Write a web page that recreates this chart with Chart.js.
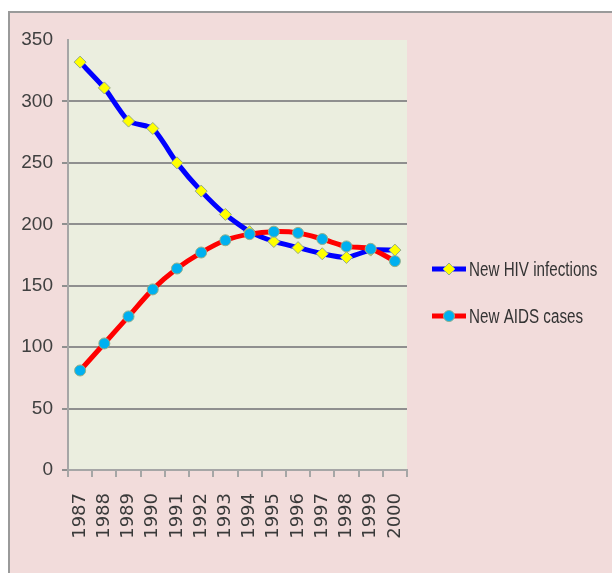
<!DOCTYPE html>
<html>
<head>
<meta charset="utf-8">
<script src="https://cdn.jsdelivr.net/npm/chart.js@4.4.1/dist/chart.umd.min.js"></script>
<style>
  body { margin: 0; background: #ffffff; overflow: hidden; }
  #frame { position: absolute; left: 8px; top: 11px; width: 700px; height: 700px;
           border: 2px solid #9a9a9a; background: #f2dcdb; }
  #chart { position: absolute; left: 0; top: 0; }
</style>
</head>
<body>
<div id="frame"></div>
<canvas id="chart" width="612" height="573"></canvas>
<script>
var years = ['1987', '1988', '1989', '1990', '1991', '1992', '1993', '1994', '1995', '1996', '1997', '1998', '1999', '2000'];
var hivInfections = [332, 311, 284, 278, 250, 227, 208, 194, 186, 181, 176, 173, 179, 179];
var aidsCases = [81, 103, 125, 147, 164, 177, 187, 192, 194, 193, 188, 182, 180, 170];
var seriesNames = ['New HIV infections', 'New AIDS cases'];

var sans = "'Liberation Sans', Arial, sans-serif";

// light green plot background
var plotBg = {
    id: 'plotBg',
    beforeDraw: function (chart) {
        var a = chart.chartArea, ctx = chart.ctx;
        ctx.save();
        ctx.fillStyle = '#ebeedf';
        ctx.fillRect(a.left, a.top, a.right - a.left, a.bottom - a.top);
        ctx.restore();
    }
};

// legend drawn as line + marker, like the office chart
var lineLegend = {
    id: 'lineLegend',
    afterDraw: function (chart) {
        var ctx = chart.ctx;
        var x0 = 432, x1 = 466, rows = [269, 316];
        chart.data.datasets.forEach(function (ds, i) {
            var y = rows[i];
            ctx.save();
            ctx.strokeStyle = ds.borderColor;
            ctx.lineWidth = 5;
            ctx.beginPath();
            ctx.moveTo(x0, y);
            ctx.lineTo(x1, y);
            ctx.stroke();
            ctx.fillStyle = ds.pointBackgroundColor;
            ctx.strokeStyle = ds.pointBorderColor;
            ctx.lineWidth = 1;
            Chart.helpers.drawPoint(ctx, { pointStyle: ds.pointStyle, radius: ds.pointRadius, rotation: 0, borderWidth: 1 }, (x0 + x1) / 2, y);
            // text is condensed in the original
            ctx.translate(x1 + 3, y + 1);
            ctx.scale(0.76, 1);
            ctx.fillStyle = '#333333';
            ctx.font = '20px ' + sans;
            ctx.textBaseline = 'middle';
            ctx.textAlign = 'left';
            ctx.fillText(ds.label, 0, 0);
            ctx.restore();
        });
    }
};

new Chart(document.getElementById('chart'), {
    type: 'line',
    data: {
        labels: years,
        datasets: [
            {
                label: seriesNames[0],
                data: hivInfections,
                borderColor: '#0000ff',
                borderWidth: 5,
                tension: 0.2,
                pointStyle: 'rectRot',
                pointRadius: 6,
                pointBackgroundColor: '#ffff00',
                pointBorderColor: '#93a98c',
                pointBorderWidth: 1,
                order: 1
            },
            {
                label: seriesNames[1],
                data: aidsCases,
                borderColor: '#ff0000',
                borderWidth: 5,
                tension: 0.3,
                pointStyle: 'circle',
                pointRadius: 5.5,
                pointBackgroundColor: '#00b0f0',
                pointBorderColor: '#93b08a',
                pointBorderWidth: 1,
                order: 0
            }
        ]
    },
    options: {
        responsive: false,
        animation: false,
        events: [],
        layout: { padding: { left: 0, right: 205, top: 40, bottom: 0 } },
        plugins: {
            legend: { display: false },
            tooltip: { enabled: false }
        },
        scales: {
            x: {
                offset: true,
                grid: { offset: true, drawOnChartArea: false, drawTicks: true, tickLength: 7, color: '#a6a6a6', lineWidth: 2 },
                border: { color: '#a6a6a6', width: 2 },
                ticks: {
                    autoSkip: false, minRotation: 90, maxRotation: 90, padding: 16,
                    color: '#3a3a3a', font: { family: "'DejaVu Sans', sans-serif", size: 18 }
                },
                afterFit: function (s) { s.height = 103; }
            },
            y: {
                min: 0,
                max: 350,
                ticks: { stepSize: 50, padding: 9, color: '#404040', font: { family: sans, size: 19 } },
                grid: {
                    color: function (c) { return c.tick && c.tick.value === 350 ? 'rgba(0,0,0,0)' : '#8f8f8f'; },
                    lineWidth: 2,
                    tickLength: 6
                },
                border: { color: '#a6a6a6', width: 2 },
                afterFit: function (s) { s.width = 68; }
            }
        }
    },
    plugins: [plotBg, lineLegend]
});
</script>
</body>
</html>
